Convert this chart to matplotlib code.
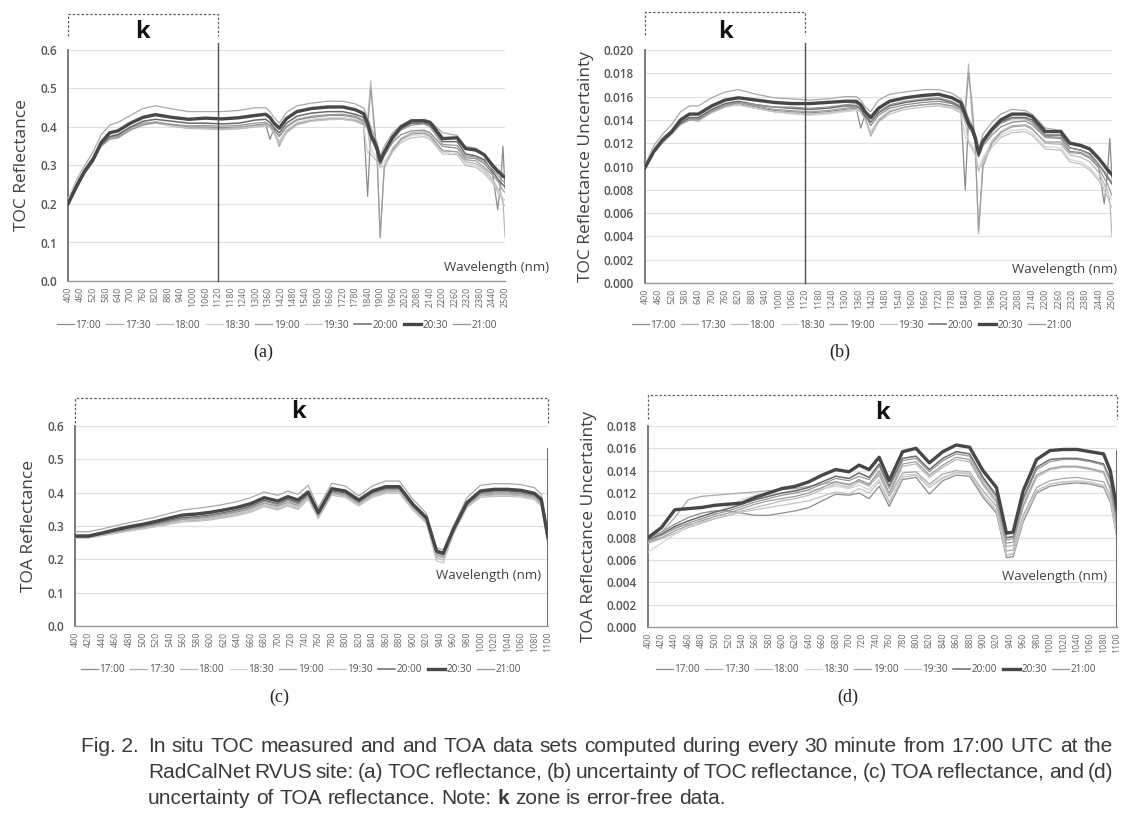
import matplotlib
matplotlib.use("Agg")
import matplotlib.pyplot as plt
from matplotlib import font_manager
from matplotlib.lines import Line2D

# ---------------- data ----------------
times = ["17:00", "17:30", "18:00", "18:30", "19:00", "19:30", "20:00", "20:30", "21:00"]

wl_toc = [400, 440, 480, 520, 560, 600, 640, 700, 760, 820, 900, 980, 1060, 1140, 1220, 1300,
          1350, 1370, 1390, 1415, 1450, 1500, 1570, 1650, 1720, 1780, 1820, 1840, 1855, 1870,
          1885, 1900, 1920, 1960, 2000, 2050, 2110, 2140, 2200, 2270, 2310, 2360, 2400, 2440,
          2465, 2480, 2490, 2500]

toc_refl = {
    "17:00": [.205, .250, .288, .318, .355, .372, .375, .395, .408, .412, .405, .400, .400, .398, .400, .405,
              .408, .368, .395, .375, .400, .418, .425, .430, .430, .425, .415, .220, .390, .360,
              .340, .300, .325, .360, .380, .390, .392, .385, .350, .345, .320, .318, .305, .280,
              .185, .260, .350, .240],
    "17:30": [.210, .262, .300, .335, .380, .405, .412, .430, .448, .455, .447, .440, .440, .440, .443, .450,
              .450, .440, .425, .410, .438, .455, .462, .467, .467, .460, .450, .425, .400, .380,
              .360, .325, .350, .385, .405, .418, .420, .415, .385, .378, .350, .345, .330, .305,
              .290, .285, .280, .278],
    "18:00": [.210, .255, .292, .322, .358, .375, .378, .396, .408, .410, .402, .396, .395, .393, .395, .400,
              .403, .400, .385, .360, .390, .410, .418, .422, .423, .420, .410, .420, .520, .400,
              .330, .115, .300, .345, .370, .385, .388, .380, .340, .335, .310, .305, .290, .265,
              .240, .230, .210, .115],
    "18:30": [.212, .258, .295, .325, .360, .378, .382, .398, .410, .412, .405, .398, .397, .395, .398, .403,
              .405, .402, .388, .365, .392, .412, .420, .424, .424, .418, .405, .330, .350, .330,
              .320, .300, .310, .340, .365, .378, .380, .372, .335, .330, .305, .300, .285, .260,
              .235, .225, .215, .210],
    "19:00": [.208, .252, .290, .320, .356, .374, .378, .398, .410, .413, .406, .399, .398, .396, .398, .404,
              .406, .405, .388, .350, .388, .408, .416, .420, .420, .417, .408, .400, .500, .420,
              .330, .112, .295, .340, .368, .382, .384, .376, .338, .336, .315, .312, .295, .275,
              .260, .245, .235, .230],
    "19:30": [.206, .250, .287, .318, .352, .370, .372, .392, .405, .410, .403, .397, .396, .394, .397, .402,
              .404, .400, .385, .355, .385, .405, .415, .419, .420, .415, .405, .395, .330, .320,
              .310, .295, .300, .335, .360, .372, .375, .368, .330, .328, .300, .295, .280, .255,
              .230, .220, .200, .195],
    "20:00": [.198, .240, .280, .310, .352, .375, .380, .400, .415, .420, .415, .410, .410, .408, .410, .418,
              .420, .412, .398, .385, .410, .428, .436, .440, .440, .433, .425, .400, .372, .355,
              .335, .305, .330, .368, .395, .410, .410, .405, .362, .362, .330, .325, .315, .285,
              .265, .255, .250, .245],
    "20:30": [.200, .245, .285, .315, .360, .385, .390, .410, .425, .432, .425, .420, .423, .421, .424, .430,
              .433, .425, .410, .397, .422, .440, .448, .452, .452, .445, .435, .410, .380, .365,
              .345, .312, .335, .374, .400, .416, .416, .412, .370, .372, .344, .340, .328, .300,
              .285, .278, .272, .270],
    "21:00": [.202, .248, .286, .316, .350, .368, .372, .392, .405, .412, .407, .403, .404, .402, .404, .410,
              .412, .405, .392, .378, .402, .420, .428, .432, .433, .428, .418, .400, .385, .365,
              .345, .310, .330, .365, .392, .405, .408, .400, .355, .352, .325, .322, .310, .290,
              .275, .265, .260, .255],
}

toc_unc = {
    "17:00": [.0100, .0114, .0122, .0129, .0137, .0140, .0139, .0147, .0152, .0154, .0151, .0148, .0147, .0146, .0147, .0149,
              .0150, .0133, .0145, .0135, .0144, .0150, .0153, .0155, .0156, .0154, .0150, .0080, .0142, .0130,
              .0122, .0108, .0118, .0127, .0134, .0138, .0139, .0136, .0125, .0124, .0113, .0112, .0108, .0100,
              .0068, .0095, .0124, .0090],
    "17:30": [.0101, .0118, .0128, .0136, .0147, .0152, .0152, .0159, .0164, .0166, .0162, .0159, .0158, .0157, .0158, .0160,
              .0160, .0157, .0151, .0147, .0157, .0162, .0164, .0166, .0166, .0163, .0158, .0150, .0141, .0136,
              .0128, .0115, .0128, .0138, .0145, .0149, .0148, .0145, .0133, .0131, .0121, .0119, .0116, .0108,
              .0102, .0099, .0097, .0095],
    "18:00": [.0100, .0115, .0124, .0130, .0138, .0141, .0140, .0147, .0152, .0153, .0150, .0147, .0146, .0145, .0146, .0148,
              .0149, .0148, .0141, .0128, .0140, .0147, .0151, .0153, .0154, .0152, .0148, .0150, .0188, .0145,
              .0120, .0042, .0105, .0122, .0130, .0135, .0136, .0133, .0120, .0119, .0110, .0108, .0104, .0095,
              .0085, .0080, .0070, .0040],
    "18:30": [.0100, .0116, .0125, .0131, .0139, .0142, .0141, .0148, .0152, .0153, .0150, .0147, .0145, .0144, .0145, .0147,
              .0148, .0147, .0140, .0130, .0141, .0148, .0151, .0153, .0153, .0151, .0146, .0125, .0122, .0118,
              .0112, .0098, .0108, .0120, .0127, .0131, .0132, .0129, .0117, .0116, .0106, .0104, .0099, .0090,
              .0083, .0078, .0074, .0072],
    "19:00": [.0099, .0114, .0123, .0130, .0138, .0141, .0141, .0148, .0153, .0155, .0152, .0149, .0148, .0147, .0148, .0150,
              .0151, .0150, .0142, .0126, .0139, .0147, .0151, .0153, .0154, .0152, .0149, .0145, .0180, .0155,
              .0118, .0045, .0100, .0120, .0129, .0134, .0135, .0132, .0121, .0121, .0112, .0111, .0107, .0099,
              .0090, .0085, .0080, .0075],
    "19:30": [.0099, .0113, .0122, .0129, .0137, .0140, .0139, .0146, .0151, .0153, .0150, .0147, .0146, .0145, .0146, .0148,
              .0149, .0147, .0140, .0127, .0138, .0145, .0149, .0151, .0152, .0150, .0146, .0138, .0120, .0116,
              .0110, .0096, .0104, .0117, .0125, .0129, .0130, .0127, .0115, .0114, .0104, .0102, .0097, .0088,
              .0080, .0074, .0068, .0065],
    "20:00": [.0099, .0112, .0121, .0128, .0137, .0142, .0142, .0149, .0154, .0156, .0153, .0151, .0150, .0149, .0150, .0152,
              .0152, .0149, .0143, .0138, .0146, .0152, .0155, .0157, .0158, .0155, .0151, .0141, .0134, .0130,
              .0122, .0109, .0120, .0130, .0138, .0142, .0142, .0140, .0127, .0127, .0116, .0114, .0111, .0102,
              .0095, .0090, .0088, .0085],
    "20:30": [.0099, .0113, .0123, .0130, .0140, .0145, .0145, .0152, .0157, .0159, .0157, .0155, .0154, .0154, .0155, .0156,
              .0156, .0153, .0147, .0142, .0150, .0156, .0159, .0161, .0162, .0159, .0155, .0145, .0137, .0133,
              .0125, .0111, .0122, .0132, .0140, .0145, .0145, .0143, .0130, .0130, .0120, .0118, .0115, .0107,
              .0101, .0097, .0095, .0093],
    "21:00": [.0099, .0112, .0121, .0128, .0136, .0140, .0140, .0147, .0152, .0155, .0153, .0151, .0151, .0150, .0151, .0153,
              .0154, .0151, .0145, .0139, .0147, .0153, .0156, .0158, .0159, .0156, .0152, .0142, .0136, .0131,
              .0123, .0110, .0120, .0130, .0137, .0141, .0141, .0138, .0126, .0125, .0116, .0114, .0110, .0102,
              .0096, .0092, .0089, .0087],
}

wl_toa = [400, 420, 440, 460, 480, 500, 520, 540, 560, 580, 600, 620, 640, 660, 680,
          700, 715, 730, 745, 760, 780, 800, 820, 840, 860, 880, 900, 920,
          935, 945, 960, 980, 1000, 1020, 1040, 1060, 1080, 1090, 1100]

toa_refl = {
    "17:00": [.266, .266, .273, .281, .288, .294, .301, .309, .317, .320, .324, .330, .338, .349, .366,
              .356, .369, .358, .386, .328, .398, .392, .366, .392, .404, .404, .355, .315,
              .210, .205, .282, .360, .393, .396, .396, .394, .386, .368, .255],
    "17:30": [.283, .283, .291, .301, .310, .318, .327, .338, .348, .353, .358, .365, .373, .385, .402,
              .392, .405, .395, .422, .355, .428, .420, .390, .420, .435, .435, .380, .338,
              .235, .228, .300, .385, .422, .427, .427, .424, .415, .395, .275],
    "18:00": [.265, .265, .272, .279, .286, .292, .299, .307, .315, .317, .321, .327, .335, .345, .362,
              .352, .364, .353, .384, .326, .396, .390, .364, .390, .402, .402, .352, .312,
              .205, .198, .279, .358, .390, .393, .393, .391, .383, .365, .250],
    "18:30": [.268, .268, .275, .282, .289, .295, .302, .310, .318, .321, .325, .331, .339, .349, .365,
              .355, .368, .357, .388, .330, .400, .394, .368, .394, .406, .406, .357, .318,
              .212, .207, .284, .362, .395, .398, .398, .396, .388, .370, .252],
    "19:00": [.267, .267, .274, .282, .290, .296, .304, .312, .320, .323, .327, .334, .342, .352, .369,
              .360, .372, .362, .390, .331, .401, .395, .369, .396, .408, .408, .358, .318,
              .215, .209, .286, .363, .396, .399, .399, .397, .389, .371, .256],
    "19:30": [.264, .264, .271, .278, .285, .291, .298, .305, .312, .314, .318, .324, .331, .341, .358,
              .348, .360, .350, .380, .322, .392, .386, .360, .386, .398, .398, .348, .308,
              .195, .190, .275, .355, .386, .389, .389, .387, .379, .360, .245],
    "20:00": [.268, .268, .276, .285, .293, .300, .308, .317, .325, .328, .333, .340, .348, .359, .377,
              .367, .380, .370, .395, .335, .405, .399, .373, .400, .413, .413, .362, .322,
              .222, .215, .287, .366, .400, .405, .405, .402, .393, .375, .262],
    "20:30": [.270, .270, .279, .289, .298, .305, .314, .324, .333, .336, .341, .348, .356, .367, .385,
              .375, .388, .378, .402, .340, .412, .405, .378, .405, .418, .418, .365, .325,
              .225, .218, .290, .370, .405, .410, .410, .407, .398, .380, .265],
    "21:00": [.267, .267, .275, .283, .291, .297, .305, .314, .322, .325, .330, .337, .345, .356, .374,
              .364, .377, .366, .392, .333, .402, .396, .370, .397, .410, .410, .360, .320,
              .220, .213, .285, .364, .398, .402, .402, .399, .390, .372, .258],
}

toa_unc = {
    "17:00": [.0079, .0085, .0092, .0098, .0102, .0104, .0104, .0102, .0100, .0100, .0102, .0104, .0107, .0113, .0119,
              .0118, .0120, .0115, .0126, .0108, .0132, .0134, .0119, .0131, .0136, .0135, .0116, .0102,
              .0062, .0063, .0094, .0120, .0126, .0128, .0129, .0128, .0125, .0112, .0080],
    "17:30": [.0080, .0085, .0098, .0114, .0117, .0118, .0119, .0120, .0121, .0122, .0123, .0124, .0126, .0128, .0130,
              .0128, .0131, .0127, .0136, .0117, .0138, .0139, .0128, .0137, .0140, .0139, .0122, .0108,
              .0068, .0069, .0100, .0125, .0131, .0133, .0134, .0132, .0130, .0118, .0085],
    "18:00": [.0075, .0079, .0084, .0089, .0093, .0097, .0100, .0104, .0107, .0110, .0113, .0115, .0118, .0123, .0128,
              .0125, .0130, .0126, .0138, .0118, .0144, .0146, .0134, .0143, .0150, .0148, .0127, .0111,
              .0072, .0073, .0107, .0134, .0141, .0143, .0143, .0141, .0138, .0123, .0088],
    "18:30": [.0067, .0075, .0083, .0090, .0096, .0102, .0108, .0114, .0118, .0119, .0120, .0121, .0122, .0124, .0126,
              .0124, .0127, .0123, .0132, .0113, .0136, .0137, .0127, .0134, .0139, .0138, .0119, .0105,
              .0065, .0066, .0097, .0122, .0128, .0130, .0131, .0130, .0127, .0115, .0082],
    "19:00": [.0076, .0080, .0086, .0091, .0095, .0099, .0102, .0106, .0110, .0113, .0115, .0117, .0120, .0125, .0130,
              .0127, .0132, .0128, .0140, .0120, .0146, .0148, .0136, .0145, .0152, .0150, .0129, .0113,
              .0075, .0076, .0109, .0136, .0142, .0144, .0144, .0142, .0139, .0125, .0090],
    "19:30": [.0078, .0084, .0089, .0092, .0094, .0097, .0100, .0103, .0105, .0107, .0109, .0111, .0113, .0117, .0121,
              .0119, .0124, .0120, .0130, .0111, .0134, .0136, .0125, .0133, .0138, .0137, .0118, .0104,
              .0064, .0065, .0096, .0122, .0128, .0130, .0130, .0129, .0126, .0114, .0081],
    "20:00": [.0078, .0083, .0090, .0095, .0099, .0103, .0106, .0110, .0114, .0117, .0120, .0122, .0125, .0130, .0135,
              .0133, .0138, .0134, .0146, .0126, .0151, .0153, .0141, .0151, .0157, .0155, .0134, .0118,
              .0080, .0081, .0115, .0143, .0150, .0151, .0151, .0149, .0146, .0132, .0098],
    "20:30": [.0080, .0089, .0105, .0106, .0107, .0109, .0110, .0111, .0116, .0120, .0124, .0126, .0130, .0136, .0141,
              .0139, .0145, .0141, .0152, .0131, .0157, .0160, .0147, .0157, .0163, .0161, .0140, .0125,
              .0084, .0085, .0122, .0150, .0158, .0159, .0159, .0157, .0155, .0140, .0105],
    "21:00": [.0077, .0082, .0088, .0093, .0097, .0101, .0104, .0108, .0112, .0115, .0118, .0120, .0123, .0128, .0133,
              .0131, .0135, .0132, .0144, .0124, .0149, .0151, .0139, .0149, .0155, .0153, .0132, .0116,
              .0078, .0079, .0113, .0141, .0148, .0150, .0150, .0148, .0145, .0130, .0095],
}

toc_tick_labels = ["400", "460", "520", "580", "640", "700", "760", "820", "880", "940", "1000", "1060",
                   "1120", "1180", "1240", "1300", "1360", "1420", "1480", "1540", "1600", "1660", "1720",
                   "1780", "1840", "1900", "1960", "2020", "2080", "2140", "2200", "2260", "2320", "2380",
                   "2440", "2500"]
toa_tick_labels = ["400", "420", "440", "460", "480", "500", "520", "540", "560", "580", "600", "620",
                   "640", "660", "680", "700", "720", "740", "760", "780", "800", "820", "840", "860",
                   "880", "900", "920", "940", "960", "980", "1000", "1020", "1040", "1060", "1080", "1100"]

# ---------------- style ----------------
line_colors = {"17:00": "#8c8c8c", "17:30": "#a9a9a9", "18:00": "#b9b9b9", "18:30": "#d4d4d4",
               "19:00": "#9e9e9e", "19:30": "#c2c2c2", "20:00": "#6a6a6a", "20:30": "#474747",
               "21:00": "#979797"}
line_widths = {t: 0.9 for t in times}
line_widths["20:00"] = 1.1
line_widths["20:30"] = 2.4

W, H = 1137, 818
plt.rcParams['font.family'] = ['Open Sans', 'DejaVu Sans']
fig = plt.figure(figsize=(W / 100, H / 100), dpi=100)
fig.patch.set_facecolor("white")
TXT = "#404040"


def px_axes(l, t, r, b):
    return fig.add_axes([l / W, 1 - b / H, (r - l) / W, (b - t) / H])


def draw_panel(box, wl, data, xlim, major, labels, ylim, yticks, yfmt, ylabel,
               kx, ky_box, k_pos, k_line, right_line, legend_xy, sub, sub_xy, wl_xy):
    ax = px_axes(*box)
    for t in times:
        ax.plot(wl, data[t], color=line_colors[t], lw=line_widths[t], label=t,
                zorder=4 if t == "20:30" else 3, solid_joinstyle="round")
    ax.set_xlim(*xlim)
    ax.set_ylim(*ylim)
    ax.set_yticks(yticks)
    ax.set_yticklabels([yfmt.format(v) for v in yticks])
    ax.set_xticks([float(s) for s in labels])
    ax.set_xticklabels(labels, rotation=90, fontsize=6.4, color="#6a6a6a")
    ax.set_xticks(major, minor=True)
    ax.tick_params(axis="x", which="major", length=0, pad=4)
    ax.tick_params(axis="x", which="minor", length=4, width=1, color="#8a8a8a", direction="out")
    ax.tick_params(axis="y", length=0, pad=8, labelsize=8.5, labelcolor="#555555")
    for lab in ax.get_yticklabels():
        lab.set_fontweight("semibold")
    ax.yaxis.grid(True, color="#e0e0e0", lw=0.9)
    ax.set_axisbelow(True)
    for s in ("top", "right"):
        ax.spines[s].set_visible(False)
    ax.spines["left"].set_color("#6f6f6f")
    ax.spines["left"].set_linewidth(1.3)
    ax.spines["bottom"].set_color("#9a9a9a")
    ax.spines["bottom"].set_linewidth(1.0)
    ax.set_ylabel(ylabel, fontsize=12.5, color=TXT, labelpad=7)

    # k zone bracket above the plot
    tr = ax.get_xaxis_transform()
    y0, y1 = ky_box
    ax.add_line(Line2D([kx[0], kx[0], kx[1], kx[1]], [y0, y1, y1, y0], transform=tr,
                       ls=(0, (2, 1.5)), lw=0.9, color="#606060", clip_on=False))
    ax.text(k_pos[0], k_pos[1], "k", transform=tr, ha="center", va="center",
            fontsize=17, fontweight="bold", color="#111111")
    if k_line is not None:
        ax.axvline(k_line, ymin=0, ymax=1.03, color="#505050", lw=1.0, clip_on=False, zorder=5)
    if right_line is not None:
        ax.axvline(xlim[1], ymin=0, ymax=right_line, color="#505050", lw=1.2, zorder=5)

    ax.text(wl_xy[0], wl_xy[1], "Wavelength (nm)", transform=ax.transAxes, ha="right",
            va="center", fontsize=9.5, color=TXT)

    leg = ax.legend(loc="center", bbox_to_anchor=(legend_xy[0] / W, 1 - legend_xy[1] / H),
                    bbox_transform=fig.transFigure, ncol=9, frameon=False, fontsize=7.2,
                    handlelength=1.7, handletextpad=0.15, columnspacing=0.55)
    for txt in leg.get_texts():
        txt.set_color("#555555")
    fig.text(sub_xy[0] / W, 1 - sub_xy[1] / H, sub, ha="center", va="center",
             fontsize=13, family="Liberation Serif", color="#222222")
    return ax


draw_panel((68, 50, 505, 281), wl_toc, toc_refl, (400, 2500),
           [400, 700, 1000, 1300, 1600, 1900, 2200, 2500], toc_tick_labels,
           (0, 0.6), [0.0, 0.1, 0.2, 0.3, 0.4, 0.5, 0.6], "{:.1f}", "TOC Reflectance",
           (400, 1120), (1.06, 1.157), (760, 1.078), 1120, None,
           (277, 325), "(a)", (263, 352), (1.10, 0.06))

draw_panel((645, 50, 1112, 283), wl_toc, toc_unc, (400, 2500),
           [400, 700, 1000, 1300, 1600, 1900, 2200, 2500], toc_tick_labels,
           (0, 0.020), [0.000, 0.002, 0.004, 0.006, 0.008, 0.010, 0.012, 0.014, 0.016, 0.018, 0.020],
           "{:.3f}", "TOC Reflectance Uncertainty",
           (400, 1120), (1.064, 1.163), (760, 1.077), 1120, None,
           (852, 325), "(b)", (840, 352), (1.01, 0.06))

draw_panel((75, 426, 548, 626), wl_toa, toa_refl, (400, 1100),
           [400, 700, 1000, 1100], toa_tick_labels,
           (0, 0.6), [0.0, 0.1, 0.2, 0.3, 0.4, 0.5, 0.6], "{:.1f}", "TOA Reflectance",
           (400, 1100), (1.015, 1.14), (730, 1.07), None, 0.53 / 0.6,
           (301, 670), "(c)", (279, 697), (0.985, 0.25))

draw_panel((648, 426, 1117, 627), wl_toa, toa_unc, (400, 1100),
           [400, 700, 1000, 1100], toa_tick_labels,
           (0, 0.018), [0.000, 0.002, 0.004, 0.006, 0.008, 0.010, 0.012, 0.014, 0.016, 0.018],
           "{:.3f}", "TOA Reflectance Uncertainty",
           (400, 1100), (1.035, 1.154), (750, 1.065), None, 0.0158 / 0.018,
           (876, 670), "(d)", (848, 697), (0.98, 0.25))

# ---------------- caption ----------------
try:
    font_manager.findfont("Liberation Sans Narrow", fallback_to_default=False)
    cap_family, cap_size = ["Liberation Sans Narrow", "DejaVu Sans"], 15.5
except ValueError:
    cap_family, cap_size = ["Liberation Sans", "DejaVu Sans"], 15

renderer = fig.canvas.get_renderer()
CAP = dict(fontsize=cap_size, family=cap_family, color="#3a3a3a", va="center")


def text_width(s, **kw):
    t = fig.text(0, 0, s, **kw)
    w = t.get_window_extent(renderer).width
    t.remove()
    return w


def put_words(words, x0, y, x1=None, bold=()):
    items = [fig.text(0, 0, w, fontweight="bold" if w in bold else "normal", **CAP) for w in words]
    widths = [it.get_window_extent(renderer).width for it in items]
    space = text_width("a a", **CAP) - text_width("aa", **CAP)
    gap = space if x1 is None else (x1 - x0 - sum(widths)) / (len(words) - 1)
    x = x0
    for it, w in zip(items, widths):
        it.set_position((x / W, 1 - y / H))
        x += w + gap


fig.text(139 / W, 1 - 746 / H, "Fig. 2.", ha="right", **CAP)
put_words("In situ TOC measured and and TOA data sets computed during every 30 minute from 17:00 UTC at the".split(),
          148, 746, 1113)
put_words("RadCalNet RVUS site: (a) TOC reflectance, (b) uncertainty of TOC reflectance, (c) TOA reflectance, and (d)".split(),
          148, 772, 1113)
put_words("uncertainty of TOA reflectance. Note: k zone is error-free data.".split(), 148, 798, bold=("k",))

fig.savefig("out.png", dpi=100, facecolor="white")
plt.close(fig)
